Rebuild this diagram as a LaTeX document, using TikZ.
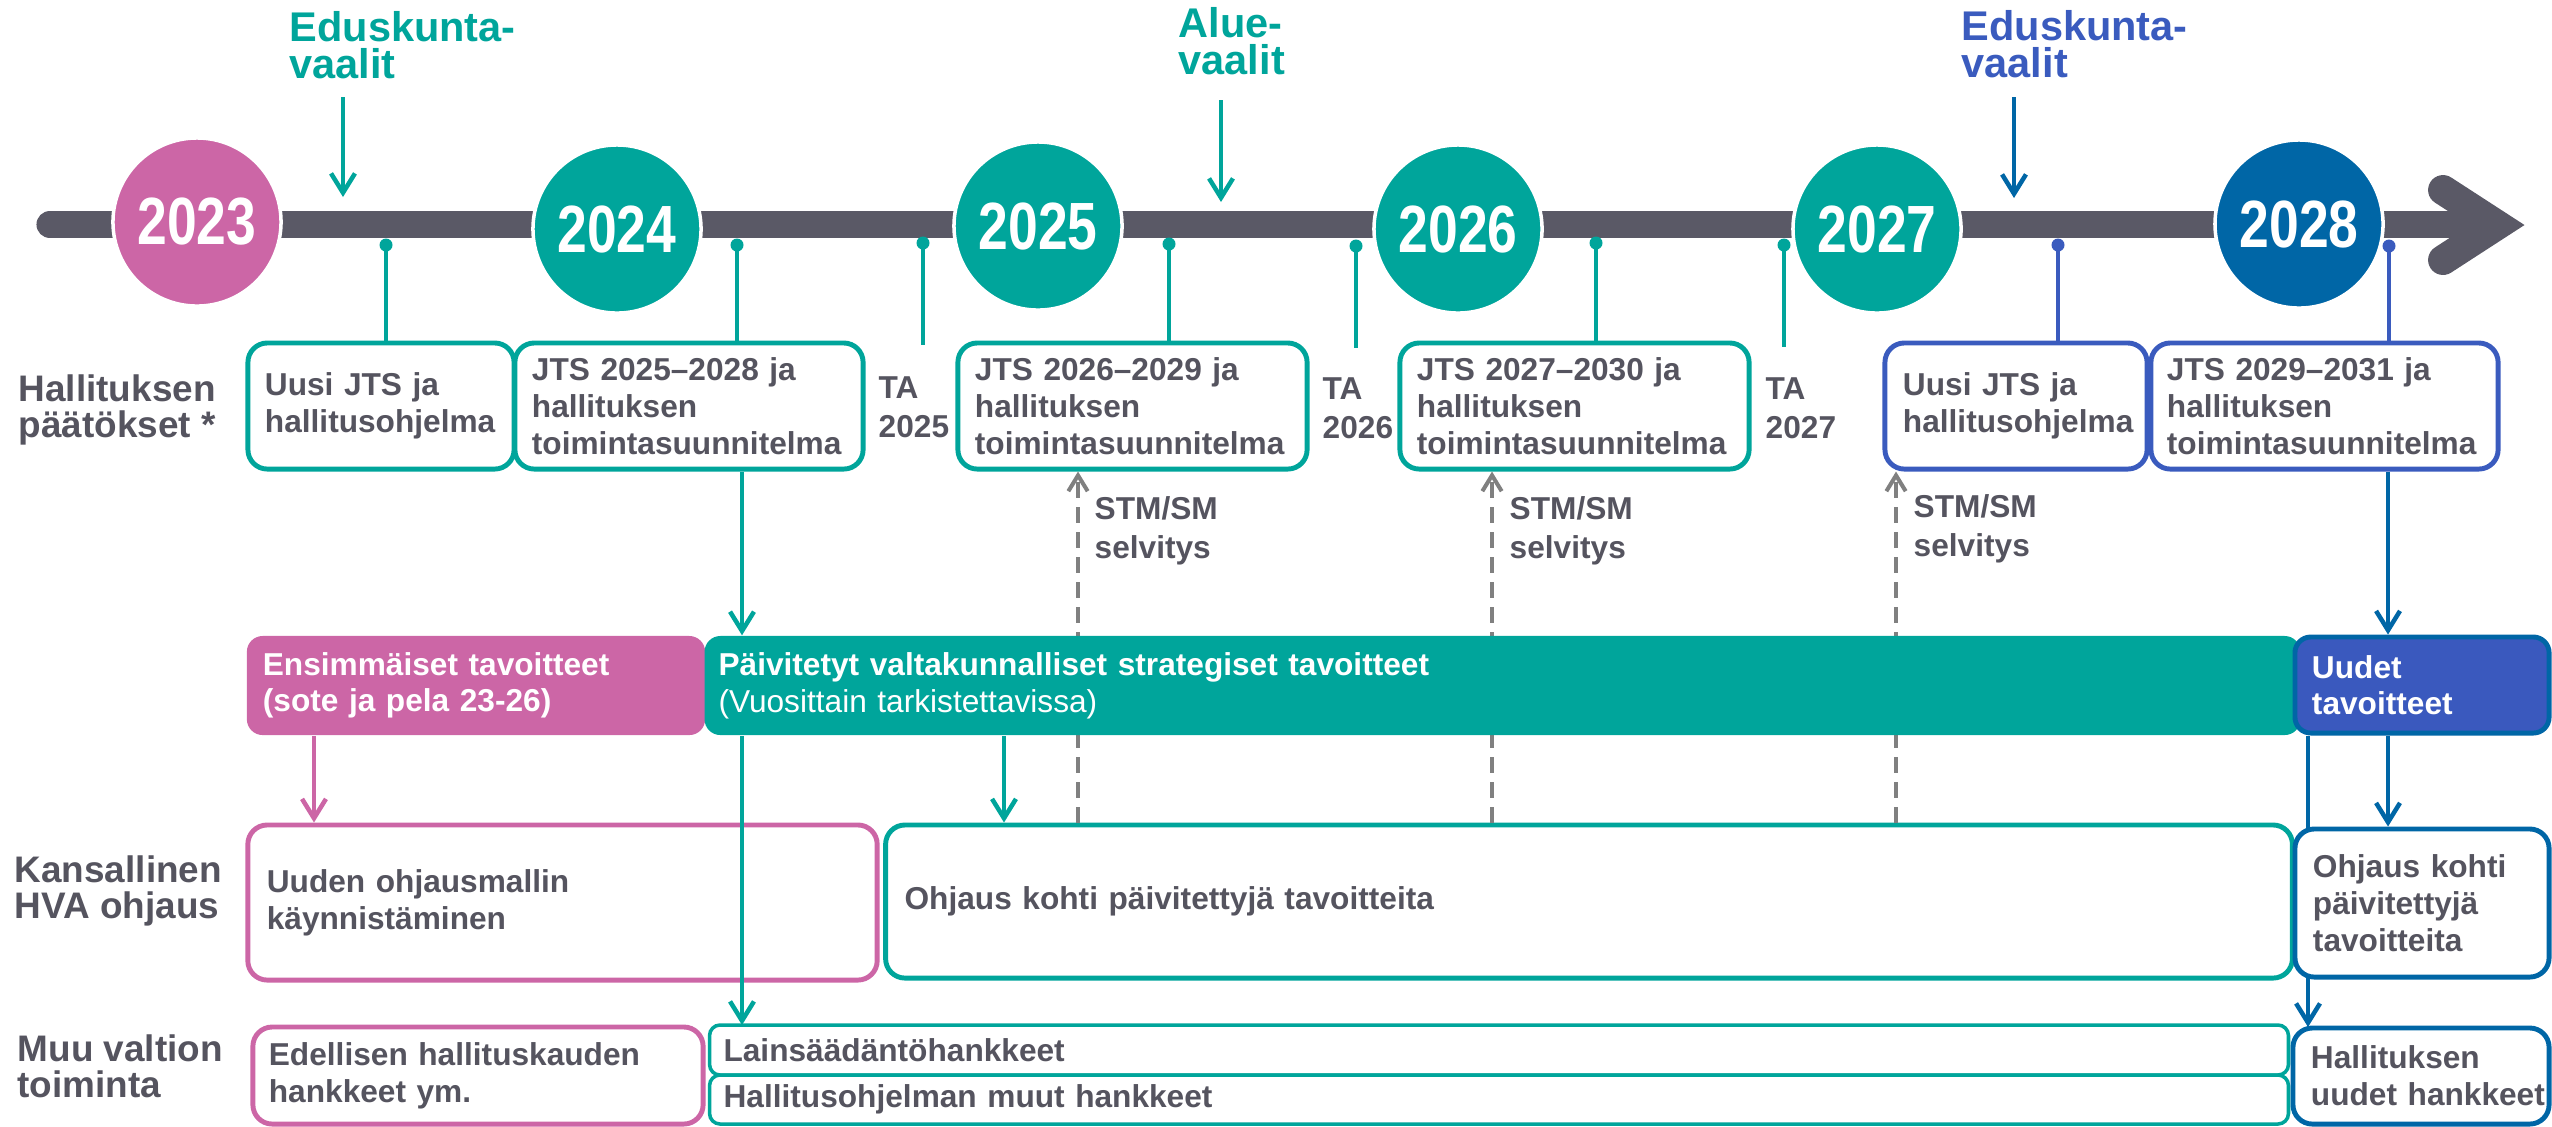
\documentclass[tikz,border=0pt]{standalone}
\usepackage{fontspec}
\setmainfont{Liberation Sans}
\newfontfamily\yearfont[FakeStretch=0.8]{Liberation Sans}
\usetikzlibrary{arrows.meta}
\hyphenpenalty=10000
\exhyphenpenalty=10000
\definecolor{tealc}{HTML}{00A59B}
\definecolor{pinkc}{HTML}{CC66A6}
\definecolor{darkblue}{HTML}{0066A6}
\definecolor{royal}{HTML}{3A5BBE}
\definecolor{uudetc}{HTML}{3A59BE}
\definecolor{barc}{HTML}{5A5966}
\definecolor{textc}{HTML}{55545F}
\definecolor{dashc}{HTML}{808080}
\begin{document}
\begin{tikzpicture}[x=0.01cm,y=-0.01cm,
  conn/.style={line width=1.28pt},
  arr/.style={line width=1.28pt,-{Straight Barb[length=5.5pt,width=6.8pt]}},
  dasharr/.style={dashc,line width=1.15pt,dash pattern=on 4.5pt off 2.6pt,-{Straight Barb[length=4.5pt,width=5.5pt]}},
  dotn/.style={circle,inner sep=0pt,minimum size=0.13cm,draw=none},
  yr/.style={circle,minimum size=1.68cm,inner sep=0pt,draw=white,line width=1pt,text=white,font=\yearfont\fontsize{19pt}{19pt}\selectfont\bfseries},
  lbl/.style={anchor=base west,inner sep=0pt,align=left,text=textc,font=\fontsize{10.5pt}{10pt}\selectfont\bfseries},
  smalllbl/.style={anchor=base west,inner sep=0pt,align=left,text=textc,font=\fontsize{9pt}{10.9pt}\selectfont\bfseries},
  elec/.style={anchor=base west,inner sep=0pt,align=left,font=\fontsize{11.8pt}{10.5pt}\selectfont\bfseries},
  jbox/.style={rectangle,rounded corners=5.5pt,draw,line width=1.4pt,fill=white,align=left,inner ysep=0pt,text=textc,font=\fontsize{9pt}{10.6pt}\selectfont\bfseries},
  gbox/.style={rectangle,rounded corners=4.5pt,align=left,inner ysep=0pt,text=white,font=\fontsize{9pt}{10.3pt}\selectfont\bfseries},
  thinbox/.style={rectangle,rounded corners=3pt,draw=tealc,line width=1pt,fill=white,align=left,inner ysep=0pt,text=textc,font=\fontsize{9pt}{10.6pt}\selectfont\bfseries}
]
\useasboundingbox (0,0) rectangle (2552,1126);

% ---------- timeline ----------
\draw[barc,line width=7.7pt,line cap=round] (50,224.5) -- (2480,224.5);
\draw[barc,line width=8.5pt,line cap=round,line join=miter] (2443,190) -- (2497,225) -- (2443,260);

\node[yr,fill=pinkc] (y23) at (197,222) {2023};
\node[yr,fill=tealc] (y24) at (617,229) {2024};
\node[yr,fill=tealc] (y25) at (1038,226) {2025};
\node[yr,fill=tealc] (y26) at (1458,229) {2026};
\node[yr,fill=tealc] (y27) at (1877,229) {2027};
\node[yr,fill=darkblue] (y28) at (2299,224) {2028};

% ---------- elections ----------
\node[elec,text=tealc] (e1) at (289,78) {Eduskunta-\\vaalit};
\node[elec,text=tealc] (e2) at (1178,74) {Alue-\\vaalit};
\node[elec,text=royal] (e3) at (1961,77) {Eduskunta-\\vaalit};
\coordinate (ea1s) at (343,97);  \coordinate (ea1e) at (343,197);
\coordinate (ea2s) at (1221,100); \coordinate (ea2e) at (1221,202);
\coordinate (ea3s) at (2014,97); \coordinate (ea3e) at (2014,198);
\draw[arr,tealc] (ea1s) -- (ea1e);
\draw[arr,tealc] (ea2s) -- (ea2e);
\draw[arr,darkblue] (ea3s) -- (ea3e);

% ---------- row labels ----------
\node[lbl] (r1) at (18,437) {Hallituksen\\päätökset *};
\node[lbl] (r2) at (14,918) {Kansallinen\\HVA ohjaus};
\node[lbl] (r3) at (17,1097) {Muu valtion\\toiminta};

% ---------- government decisions ----------
\node[jbox,draw=tealc,minimum width=2.66cm,minimum height=1.26cm,text width=2.32cm,inner xsep=0.17cm] (b1) at (381,406) {Uusi JTS ja\\hallitusohjelma};
\node[jbox,draw=tealc,minimum width=3.48cm,minimum height=1.26cm,text width=3.14cm,inner xsep=0.17cm] (b2) at (689,406) {JTS 2025--2028 ja\\hallituksen\\toimintasuunnitelma};
\node[jbox,draw=tealc,minimum width=3.49cm,minimum height=1.26cm,text width=3.15cm,inner xsep=0.17cm] (b3) at (1132.5,406) {JTS 2026--2029 ja\\hallituksen\\toimintasuunnitelma};
\node[jbox,draw=tealc,minimum width=3.49cm,minimum height=1.26cm,text width=3.15cm,inner xsep=0.17cm] (b4) at (1574.5,406) {JTS 2027--2030 ja\\hallituksen\\toimintasuunnitelma};
\node[jbox,draw=royal,minimum width=2.62cm,minimum height=1.26cm,text width=2.26cm,inner xsep=0.18cm] (b5) at (2016,406) {Uusi JTS ja\\hallitusohjelma};
\node[jbox,draw=royal,minimum width=3.47cm,minimum height=1.26cm,text width=3.15cm,inner xsep=0.16cm] (b6) at (2324.5,406) {JTS 2029--2031 ja\\hallituksen\\toimintasuunnitelma};

\node[smalllbl] (ta1) at (878,437) {TA\\2025};
\node[smalllbl] (ta2) at (1322,438) {TA\\2026};
\node[smalllbl] (ta3) at (1765,438) {TA\\2027};

% dots and connectors from the timeline
\node[dotn,fill=tealc] (d1) at (386,245) {};
\node[dotn,fill=tealc] (d2) at (737,245) {};
\node[dotn,fill=tealc] (d3) at (923,243) {};
\node[dotn,fill=tealc] (d4) at (1169,244) {};
\node[dotn,fill=tealc] (d5) at (1356,246) {};
\node[dotn,fill=tealc] (d6) at (1596,243) {};
\node[dotn,fill=tealc] (d7) at (1784,245) {};
\node[dotn,fill=royal] (d8) at (2058,245) {};
\node[dotn,fill=royal] (d9) at (2389,246) {};
\coordinate (t1e) at (923,345);
\coordinate (t2e) at (1356,348);
\coordinate (t3e) at (1784,347);
\draw[conn,tealc] (d1.center) -- (d1 |- b1.north);
\draw[conn,tealc] (d2.center) -- (d2 |- b2.north);
\draw[conn,tealc] (d3.center) -- (t1e);
\draw[conn,tealc] (d4.center) -- (d4 |- b3.north);
\draw[conn,tealc] (d5.center) -- (t2e);
\draw[conn,tealc] (d6.center) -- (d6 |- b4.north);
\draw[conn,tealc] (d7.center) -- (t3e);
\draw[conn,royal] (d8.center) -- (d8 |- b5.north);
\draw[conn,royal] (d9.center) -- (d9 |- b6.north);

% ---------- row 4 boxes drawn early (lines pass over / dashed start) ----------
\node[jbox,draw=pinkc,fill=none,minimum width=6.29cm,minimum height=1.55cm,text width=5.91cm,inner xsep=0.19cm] (h1) at (562.5,902.5) {Uuden ohjausmallin\\käynnistäminen};
\node[jbox,draw=tealc,fill=none,minimum width=14.06cm,minimum height=1.53cm,text width=13.68cm,inner xsep=0.19cm] (h2) at (1589,901.5) {Ohjaus kohti päivitettyjä tavoitteita};

% ---------- STM/SM dashed arrows ----------
\coordinate (sx1) at (1078,0);
\coordinate (sx2) at (1492,0);
\coordinate (sx3) at (1896,0);
\draw[dasharr] (sx1 |- h2.north) -- (sx1 |- b3.south);
\draw[dasharr] (sx2 |- h2.north) -- (sx2 |- b4.south);
\draw[dasharr] (sx3 |- h2.north) -- (sx3 |- b5.south);
\node[smalllbl] (st1) at (1094,558) {STM/SM\\selvitys};
\node[smalllbl] (st2) at (1509,558) {STM/SM\\selvitys};
\node[smalllbl] (st3) at (1913,556) {STM/SM\\selvitys};

% ---------- goals row ----------
\node[gbox,fill=pinkc,minimum width=4.58cm,minimum height=0.99cm,text width=4.26cm,inner xsep=0.16cm] (g1) at (476,685.5) {Ensimmäiset tavoitteet\\(sote ja pela 23-26)};
\node[gbox,fill=tealc,minimum width=15.95cm,minimum height=0.99cm,text width=15.67cm,inner xsep=0.14cm,font=\fontsize{9pt}{10.6pt}\selectfont] (g2) at (1502.5,685.5) {\textbf{Päivitetyt valtakunnalliset strategiset tavoitteet}\\(Vuosittain tarkistettavissa)};
\node[gbox,fill=uudetc,draw=darkblue,line width=1.4pt,minimum width=2.54cm,minimum height=0.96cm,text width=2.2cm,inner xsep=0.17cm] (g3) at (2422,685) {Uudet\\tavoitteet};

% ---------- arrows between rows ----------
\coordinate (xa) at (742,0);
\coordinate (xb) at (314,0);
\coordinate (xc) at (1004,0);
\coordinate (xd) at (2388,0);
\coordinate (xe) at (2308,0);
\draw[arr,tealc] (xa |- b2.south) -- (xa |- g2.north);
\draw[arr,tealc] (xa |- g2.south) -- (xa |- 0,1025);
\draw[arr,pinkc] (xb |- g1.south) -- (xb |- h1.north);
\draw[arr,tealc] (xc |- g2.south) -- (xc |- h2.north);
\draw[arr,darkblue] (xd |- b6.south) -- (xd |- g3.north);
\draw[arr,darkblue] (xe |- g3.south) -- (xe |- 0,1027);

% ---------- right column ----------
\node[jbox,draw=darkblue,minimum width=2.54cm,minimum height=1.48cm,text width=2.18cm,inner xsep=0.18cm] (h3) at (2422,903) {Ohjaus kohti\\päivitettyjä\\tavoitteita};
\draw[arr,darkblue] (xd |- g3.south) -- (xd |- h3.north);

% ---------- other state activity ----------
\node[jbox,draw=pinkc,minimum width=4.50cm,minimum height=0.97cm,text width=4.18cm,inner xsep=0.16cm] (i1) at (478,1075.5) {Edellisen hallituskauden\\hankkeet ym.};
\node[thinbox,minimum width=15.78cm,minimum height=0.50cm,text width=15.5cm,inner xsep=0.14cm] (i2) at (1499,1050) {Lainsäädäntöhankkeet};
\node[thinbox,minimum width=15.78cm,minimum height=0.49cm,text width=15.5cm,inner xsep=0.14cm] (i3) at (1499,1099.5) {Hallitusohjelman muut hankkeet};
\node[jbox,draw=darkblue,minimum width=2.56cm,minimum height=0.96cm,text width=2.2cm,inner xsep=0.18cm] (i4) at (2421,1076) {Hallituksen\\uudet~hankkeet};
\end{tikzpicture}
\end{document}
